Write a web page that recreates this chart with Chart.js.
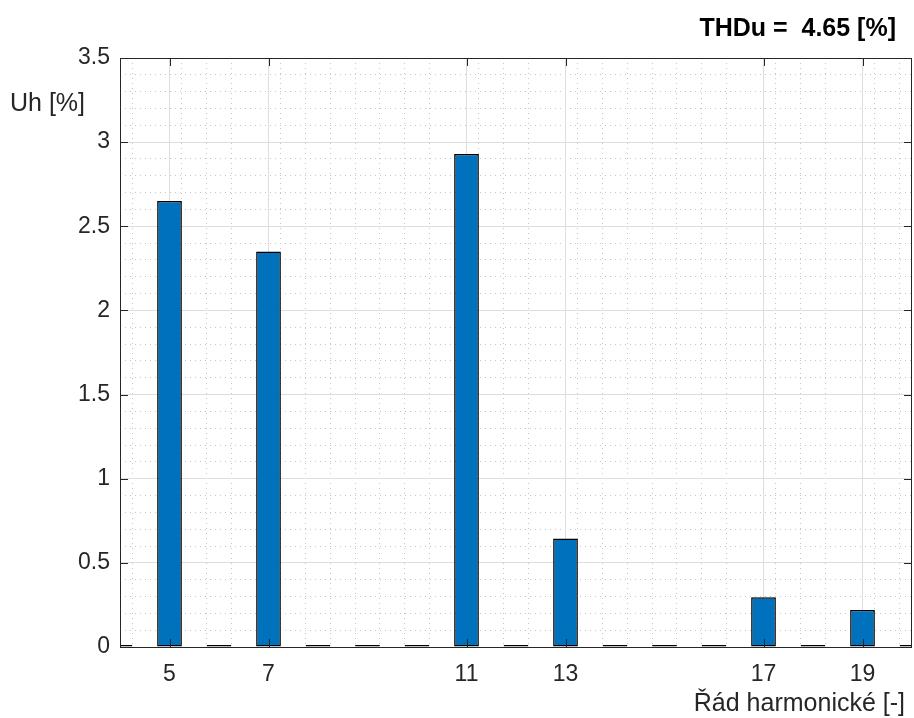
<!DOCTYPE html>
<html>
<head>
<meta charset="utf-8">
<script src="https://cdn.jsdelivr.net/npm/chart.js@4/dist/chart.umd.min.js"></script>
<style>
    html, body { margin: 0; padding: 0; background: #fff; }
    #wrap { width: 914px; height: 718px; }
</style>
</head>
<body>
<div id="wrap"><canvas id="graph" width="914" height="718"></canvas></div>
<script>
    // harmonic orders and their voltage levels [%]
    var harmonics = [4, 5, 6, 7, 8, 9, 10, 11, 12, 13, 14, 15, 16, 17, 18, 19, 20];
    var uhValues = [0, 2.65, 0, 2.35, 0, 0, 0, 2.93, 0, 0.645, 0, 0, 0, 0.295, 0, 0.22, 0];
    var xTickValues = [5, 7, 11, 13, 17, 19];
    var yTickValues = [0, 0.5, 1, 1.5, 2, 2.5, 3, 3.5];
    var thdText = 'THDu =  4.65 [%]';
    var yLabel = 'Uh [%]';
    var xLabel = 'Řád harmonické [-]';

    var AXIS = '#262626';
    var FONT = '"Liberation Sans", Arial, sans-serif';

    var points = harmonics.map(function (h, i) {
        return { x: h, y: uhValues[i] };
    });

    // box round the axes with inward ticks, plus the free texts
    var frame = {
        id: 'frame',
        afterDatasetsDraw: function (chart) {
            var ctx = chart.ctx;
            var a = chart.chartArea;
            var xs = chart.scales.x;
            var ys = chart.scales.y;
            var len = 8;
            ctx.save();
            ctx.strokeStyle = AXIS;
            ctx.lineWidth = 1;
            ctx.beginPath();
            xTickValues.forEach(function (v) {
                var px = Math.round(xs.getPixelForValue(v)) + 0.5;
                ctx.moveTo(px, a.bottom);
                ctx.lineTo(px, a.bottom - len);
                ctx.moveTo(px, a.top);
                ctx.lineTo(px, a.top + len);
            });
            yTickValues.forEach(function (v) {
                var py = Math.round(ys.getPixelForValue(v)) + 0.5;
                ctx.moveTo(a.left, py);
                ctx.lineTo(a.left + len, py);
                ctx.moveTo(a.right, py);
                ctx.lineTo(a.right - len, py);
            });
            ctx.stroke();
            ctx.strokeRect(Math.round(a.left) + 0.5, Math.round(a.top) + 0.5,
                Math.round(a.right - a.left) - 1, Math.round(a.bottom - a.top));

            ctx.fillStyle = '#000';
            ctx.font = 'bold 25px ' + FONT;
            ctx.textAlign = 'right';
            ctx.textBaseline = 'middle';
            ctx.fillText(thdText, 896, 29);

            ctx.fillStyle = AXIS;
            ctx.font = '25px ' + FONT;
            ctx.textAlign = 'left';
            ctx.fillText(yLabel, 10, 104);
            ctx.textAlign = 'right';
            ctx.fillText(xLabel, 905, 704);
            ctx.restore();
        }
    };

    var isMajorX = function (v) { return xTickValues.indexOf(v) >= 0; };
    var isMajorY = function (v) { return Math.abs(v * 2 - Math.round(v * 2)) < 1e-6; };

    var config = {
        type: 'bar',
        data: {
            datasets: [{
                label: 'Uh',
                data: points,
                backgroundColor: '#0072BD',
                borderColor: '#000000',
                borderWidth: 1.5,
                borderSkipped: false,
                minBarLength: 2,
                barPercentage: 0.5,
                categoryPercentage: 1.0,
                xAxisID: 'x',
                yAxisID: 'y'
            }]
        },
        options: {
            responsive: false,
            animation: false,
            layout: { padding: { top: 58, right: 2, bottom: 0, left: 0 } },
            plugins: {
                legend: { display: false },
                tooltip: { enabled: false },
                title: { display: false }
            },
            scales: {
                xMinor: {
                    type: 'linear',
                    position: 'bottom',
                    min: 4,
                    max: 20,
                    offset: false,
                    afterFit: function (s) { s.height = 0; },
                    ticks: { display: false, stepSize: 0.5 },
                    border: { display: false, dash: [1, 4] },
                    grid: {
                        drawTicks: false,
                        color: function (c) {
                            return (c.tick && isMajorX(c.tick.value)) ? 'rgba(0,0,0,0)' : '#c6c6c6';
                        },
                        lineWidth: 1
                    }
                },
                yMinor: {
                    type: 'linear',
                    position: 'left',
                    min: 0,
                    max: 3.5,
                    afterFit: function (s) { s.width = 0; },
                    ticks: { display: false, stepSize: 0.1 },
                    border: { display: false, dash: [1, 4] },
                    grid: {
                        drawTicks: false,
                        color: function (c) {
                            return (c.tick && isMajorY(c.tick.value)) ? 'rgba(0,0,0,0)' : '#c6c6c6';
                        },
                        lineWidth: 1
                    }
                },
                x: {
                    type: 'linear',
                    position: 'bottom',
                    min: 4,
                    max: 20,
                    offset: false,
                    afterFit: function (s) { s.height = 71; },
                    afterBuildTicks: function (s) {
                        s.ticks = xTickValues.map(function (v) { return { value: v }; });
                    },
                    ticks: {
                        color: AXIS,
                        font: { family: FONT, size: 23 },
                        padding: 14,
                        maxRotation: 0,
                        autoSkip: false
                    },
                    border: { display: false },
                    grid: { drawTicks: false, offset: false, color: '#dedede', lineWidth: 1 }
                },
                y: {
                    type: 'linear',
                    position: 'left',
                    min: 0,
                    max: 3.5,
                    afterFit: function (s) { s.width = 120; },
                    afterBuildTicks: function (s) {
                        s.ticks = yTickValues.map(function (v) { return { value: v }; });
                    },
                    ticks: {
                        color: AXIS,
                        font: { family: FONT, size: 23 },
                        padding: 10,
                        callback: function (v) { return String(v); }
                    },
                    border: { display: false },
                    grid: { drawTicks: false, color: '#dedede', lineWidth: 1 }
                }
            }
        },
        plugins: [frame]
    };

    var canvas = document.getElementById('graph');
    var context = canvas.getContext('2d');
    new Chart(context, config);
</script>
</body>
</html>
